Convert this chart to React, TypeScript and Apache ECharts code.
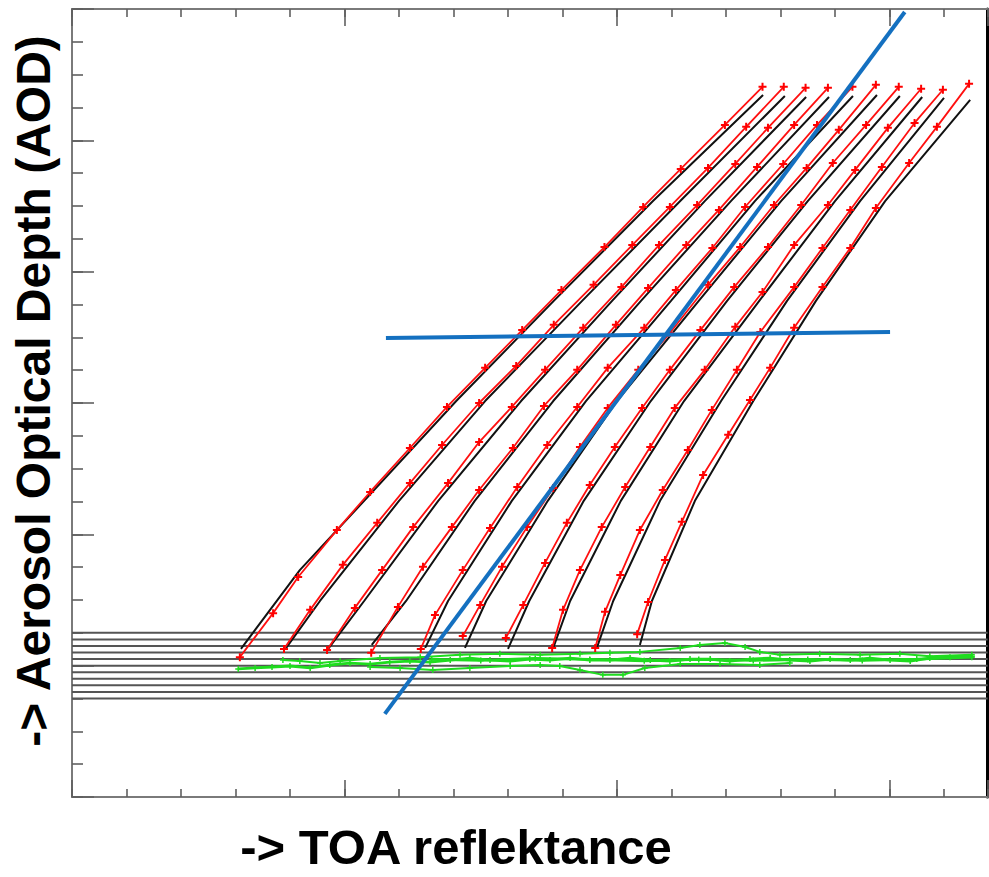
import React, { useEffect, useRef } from "react";
import * as echarts from "echarts";

// Axis extents (unlabelled axes): x = TOA reflectance, y = AOD (arbitrary units)
const xMax = 168;
const yMax = 240;
const xMinorStep = 10;
const xMajorStep = 50;
const yMinorStep = 10;
const yMajorStep = 40;

// Horizontal reference lines
const refLevels = [30, 32, 34, 36, 38, 40, 42, 44, 46, 48, 50];

// Red curves (with + markers)
const red1 = [[30.8,42.6],[36.9,56.0],[41.5,67.0],[48.6,81.3],[54.7,92.9],[62.0,106.3],[68.8,118.8],[75.8,130.7],[82.6,142.2],[89.8,154.4],[97.7,167.5],[104.8,179.7],[111.7,191.3],[119.8,204.7],[126.7,216.3]];
const red2 = [[38.9,45.1],[43.7,57.0],[49.7,70.7],[56.0,83.5],[62.0,95.6],[67.9,107.2],[74.7,120.0],[81.5,131.3],[88.4,143.8],[95.7,156.0],[102.8,168.1],[109.7,179.7],[116.7,191.6],[123.7,204.1],[130.6,216.3]];
const red3 = [[46.8,44.8],[51.9,57.6],[56.9,69.1],[62.6,82.2],[69.0,95.6],[74.7,108.1],[80.7,118.8],[86.8,130.1],[93.8,142.9],[100.8,155.3],[107.7,168.1],[114.7,180.3],[121.7,192.8],[127.7,203.8],[134.6,216.0]];
const red4 = [[54.9,43.9],[59.8,57.9],[64.4,70.1],[69.7,82.2],[74.7,93.5],[80.9,106.3],[86.6,119.1],[92.7,130.1],[99.8,143.8],[105.7,155.0],[112.7,168.1],[118.7,178.8],[125.7,191.9],[132.5,204.7],[138.7,216.0]];
const red5 = [[64.0,45.1],[66.6,55.4],[71.7,69.1],[76.7,81.9],[81.7,94.4],[87.2,107.2],[92.7,118.8],[98.3,130.7],[105.0,142.9],[110.8,154.4],[117.5,167.2],[123.5,179.7],[130.5,192.8],[136.7,204.7],[143.2,216.3]];
const red6 = [[71.7,49.0],[74.9,58.5],[78.9,70.1],[83.5,82.2],[88.3,94.1],[93.2,106.6],[98.3,118.5],[103.9,130.1],[109.7,141.3],[116.7,156.0],[122.6,167.5],[128.8,180.3],[134.8,191.6],[140.7,203.2],[147.5,216.9]];
const red7 = [[79.6,48.4],[82.8,58.5],[86.8,71.3],[90.8,83.5],[95.0,95.0],[99.6,106.6],[104.6,118.5],[109.7,130.1],[115.3,142.2],[121.5,155.3],[127.7,167.5],[133.8,180.3],[139.6,193.1],[145.7,204.7],[151.7,216.3]];
const red8 = [[88.1,45.4],[90.1,57.0],[93.2,69.1],[97.2,82.2],[101.5,94.4],[106.1,106.6],[110.6,118.5],[116.1,130.1],[121.7,143.2],[126.7,153.8],[132.5,168.1],[138.7,180.3],[143.7,191.0],[149.7,203.8],[155.8,215.7]];
const red9 = [[96.0,45.4],[97.8,56.4],[100.6,67.6],[104.2,81.3],[108.4,93.5],[113.0,105.7],[117.4,117.9],[122.0,130.1],[126.3,141.6],[132.5,155.3],[137.7,167.2],[142.8,178.8],[148.6,191.9],[154.6,205.3],[159.8,215.4]];
const red10 = [[103.7,49.6],[105.7,59.4],[108.8,72.2],[111.9,83.8],[115.8,98.1],[120.4,110.3],[124.4,120.9],[128.1,130.7],[132.5,142.9],[137.7,155.3],[142.8,167.2],[147.5,179.4],[153.6,193.1],[158.7,204.1],[164.6,217.2]];

// Black curves
const black1 = [[31.0,45.1],[33.6,50.9],[41.8,69.1],[53.6,90.2],[70.5,120.6],[88.4,151.1],[106.6,181.5],[126.8,213.8]];
const black2 = [[39.3,45.4],[45.5,59.7],[60.0,90.2],[75.8,120.6],[93.6,151.1],[111.6,181.5],[130.8,213.5]];
const black3 = [[47.0,45.1],[53.6,59.7],[67.2,90.2],[82.4,120.6],[99.1,151.1],[116.1,181.5],[134.7,213.2]];
const black4 = [[55.0,46.3],[61.3,59.7],[73.9,90.2],[88.3,120.6],[104.4,151.1],[120.9,181.5],[138.9,213.2]];
const black5 = [[64.8,45.4],[69.0,59.7],[80.7,90.2],[94.3,120.6],[109.9,151.1],[125.3,181.5],[143.3,213.5]];
const black6 = [[72.1,45.4],[76.0,59.7],[87.3,90.2],[100.0,120.6],[115.0,151.1],[130.1,181.5],[147.7,213.8]];
const black7 = [[80.0,45.1],[83.9,59.7],[93.9,90.2],[106.2,120.6],[120.2,151.1],[135.0,181.5],[151.9,213.5]];
const black8 = [[88.3,45.4],[91.4,59.7],[100.7,90.2],[112.3,120.6],[126.1,151.1],[140.0,181.5],[156.0,213.2]];
const black9 = [[96.3,45.4],[99.3,59.7],[107.9,90.2],[119.1,120.6],[131.2,151.1],[144.6,181.5],[160.0,212.9]];
const black10 = [[104.2,46.3],[106.4,59.7],[114.3,90.2],[125.0,120.6],[136.5,151.1],[149.2,181.5],[164.8,212.3]];

// Green surface traces
const green1 = [[30.5,39.0],[33.6,39.3],[36.7,39.6],[40.0,39.9],[43.7,39.3],[47.3,40.2],[51.0,40.8],[54.7,40.5],[58.3,41.1],[62.0,41.4],[65.7,41.1],[69.4,41.7],[73.0,42.3],[76.7,41.7],[80.4,41.4],[84.0,42.0],[87.7,41.7],[91.4,42.3],[95.0,41.7],[98.7,41.7],[102.4,42.3],[106.1,41.7],[109.7,41.4],[113.4,42.0],[117.1,42.0],[120.7,41.4],[124.4,42.0],[128.1,42.3],[131.7,41.7],[135.4,41.4],[139.1,42.0],[142.8,41.7],[146.4,42.3],[150.1,41.7],[153.8,41.4],[157.4,42.3],[161.1,42.6],[165.1,42.9]];
const green2 = [[38.7,41.7],[41.8,41.4],[45.5,40.8],[49.2,41.4],[56.5,42.3],[63.9,42.6],[71.2,43.3],[78.5,43.6],[85.9,43.3],[93.2,43.6],[98.7,43.9],[104.2,44.2],[111.6,45.4],[115.2,46.3],[119.8,46.9],[123.5,45.7],[126.2,44.2],[129.9,43.3],[137.2,43.6],[144.6,43.3],[151.9,43.6],[157.4,42.9],[165.1,43.3]];
const green3 = [[54.7,39.6],[60.2,39.3],[66.2,38.7],[73.0,39.3],[80.4,39.9],[85.9,40.2],[89.5,39.9],[93.2,38.7],[97.4,37.2],[101.1,37.2],[105.1,39.3],[111.6,40.5],[118.9,40.5],[126.2,40.2],[131.7,40.8]];
const green4 = [[66.0,41.9],[75.0,41.6],[85.0,42.2],[95.0,41.9],[105.0,41.5],[115.0,41.9],[125.0,41.6],[135.0,41.9],[145.0,41.6],[155.0,42.0],[165.1,42.6]];

// Blue lines
const blueDiagonal = [[57.4,25.3],[152.8,239.1]];
const blueHorizontal = [[57.6,139.8],[150.1,141.6]];

const redCurves = [red1, red2, red3, red4, red5, red6, red7, red8, red9, red10];
const blackCurves = [black1, black2, black3, black4, black5, black6, black7, black8, black9, black10];
const greenCurves = [green1, green2, green3, green4];

const PLUS = "path://M3,0H5V3H8V5H5V8H3V5H0V3H3Z";
const AXIS_GRAY = "#7a7a7a";

function xAxisDef(position: string, interval: number, len: number) {
  return {
    type: "value",
    position,
    min: 0,
    max: xMax,
    interval,
    axisLine: { show: true, onZero: false, lineStyle: { color: AXIS_GRAY, width: 2 } },
    axisTick: { show: true, inside: true, length: len, lineStyle: { color: "#606060", width: 1.6 } },
    axisLabel: { show: false },
    splitLine: { show: false },
  };
}
function yAxisDef(position: string, interval: number, len: number) {
  return {
    type: "value",
    position,
    min: 0,
    max: yMax,
    interval,
    axisLine: { show: true, onZero: false, lineStyle: { color: AXIS_GRAY, width: 2 } },
    axisTick: { show: true, inside: true, length: len, lineStyle: { color: "#606060", width: 1.6 } },
    axisLabel: { show: false },
    splitLine: { show: false },
  };
}

export default function App() {
  const ref = useRef<HTMLDivElement>(null);
  useEffect(() => {
    document.body.style.margin = "0";
    const chart = echarts.init(ref.current!, null, { renderer: "svg" });
    const series: any[] = [];
    refLevels.forEach((lv) => {
      series.push({
        type: "line",
        data: [[0, lv], [xMax, lv]],
        symbol: "none",
        lineStyle: { color: "#555555", width: 2 },
        z: 1,
      });
    });
    greenCurves.forEach((g, i) => {
      series.push({
        type: "line",
        data: g,
        symbol: PLUS,
        symbolSize: 6,
        itemStyle: { color: "#1fdc1f" },
        lineStyle: { color: "#1fdc1f", width: i === 0 || i === 3 ? 2.8 : 2 },
        z: 2,
      });
    });
    blackCurves.forEach((b) => {
      series.push({
        type: "line",
        data: b,
        symbol: "none",
        lineStyle: { color: "#111111", width: 2 },
        z: 3,
      });
    });
    redCurves.forEach((r) => {
      series.push({
        type: "line",
        data: r,
        symbol: PLUS,
        symbolSize: 8,
        itemStyle: { color: "#ff0000" },
        lineStyle: { color: "#ff1010", width: 1.8 },
        z: 4,
      });
    });
    [blueDiagonal, blueHorizontal].forEach((bl) => {
      series.push({
        type: "line",
        data: bl,
        symbol: "none",
        lineStyle: { color: "#1470c0", width: 4 },
        z: 5,
      });
    });
    series.forEach((s) => {
      s.xAxisIndex = 0;
      s.yAxisIndex = 0;
      s.silent = true;
    });

    chart.setOption({
      animation: false,
      backgroundColor: "#ffffff",
      grid: { left: 72, top: 9, width: 915.6, height: 788, containLabel: false },
      xAxis: [
        xAxisDef("bottom", xMinorStep, 8),
        xAxisDef("bottom", xMajorStep, 17),
        xAxisDef("top", xMinorStep, 8),
        xAxisDef("top", xMajorStep, 17),
      ],
      yAxis: [
        yAxisDef("left", yMinorStep, 11),
        yAxisDef("left", yMajorStep, 22),
        {
          type: "value",
          position: "right",
          min: 0,
          max: yMax,
          axisLine: { show: true, onZero: false, lineStyle: { color: "#000000", width: 3 } },
          axisTick: { show: false },
          axisLabel: { show: false },
          splitLine: { show: false },
        },
      ],
      graphic: [
        {
          type: "text",
          x: 33,
          y: 391,
          rotation: Math.PI / 2,
          style: {
            text: "-> Aerosol Optical Depth (AOD)",
            font: "bold 48px 'Liberation Sans', Arial, sans-serif",
            fill: "#000000",
            textAlign: "center",
            textVerticalAlign: "middle",
          },
        },
        {
          type: "text",
          x: 456,
          y: 847,
          style: {
            text: "-> TOA reflektance",
            font: "bold 49px 'Liberation Sans', Arial, sans-serif",
            fill: "#000000",
            textAlign: "center",
            textVerticalAlign: "middle",
          },
        },
      ],
      series,
    });
    return () => chart.dispose();
  }, []);
  return <div ref={ref} style={{ width: 989, height: 877 }} />;
}
